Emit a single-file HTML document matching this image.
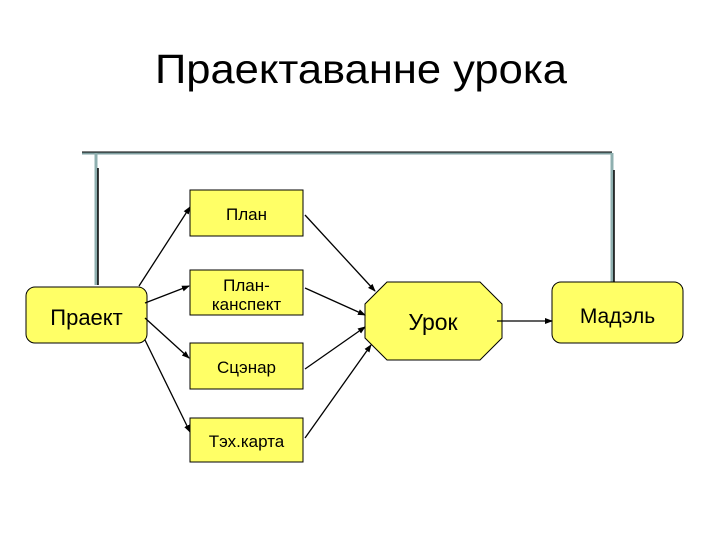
<!DOCTYPE html>
<html><head><meta charset="utf-8"><style>
html,body{margin:0;padding:0;background:#fff;}
svg{display:block;}
text{font-family:"Liberation Sans",Arial,sans-serif;fill:#000;}
</style></head><body>
<svg width="720" height="540" viewBox="0 0 720 540" xmlns="http://www.w3.org/2000/svg">
<defs>
<marker id="a" markerWidth="8" markerHeight="8" refX="7" refY="4" orient="auto" markerUnits="userSpaceOnUse">
<path d="M0,1 L8,4 L0,7 z" fill="#000"/></marker>
</defs>
<text x="361" y="83" font-size="41" text-anchor="middle" textLength="412" lengthAdjust="spacingAndGlyphs">Праектаванне урока</text>

<!-- feedback loop -->
<polyline points="82,153 612,153" stroke="#7f9fa0" stroke-width="3" fill="none"/>
<line x1="82" y1="152" x2="612" y2="152" stroke="#000" stroke-width="1"/>
<line x1="96" y1="153" x2="96" y2="285" stroke="#8fb0b0" stroke-width="3"/>
<line x1="98" y1="168" x2="98" y2="285" stroke="#000" stroke-width="1.5"/>
<line x1="612" y1="153" x2="612" y2="282" stroke="#8fb0b0" stroke-width="3"/>
<line x1="614" y1="170" x2="614" y2="282" stroke="#000" stroke-width="1.5"/>

<!-- boxes -->
<rect x="26" y="287" width="121" height="56" rx="9" fill="#ffff66" stroke="#000"/>
<text x="86.5" y="325" font-size="22" text-anchor="middle">Праект</text>

<rect x="190" y="190" width="113" height="46" fill="#ffff66" stroke="#000"/>
<text x="246.5" y="220" font-size="17" text-anchor="middle">План</text>
<rect x="190" y="270" width="113" height="45" fill="#ffff66" stroke="#000"/>
<text x="246.5" y="291" font-size="17" text-anchor="middle">План-</text>
<text x="246.5" y="310" font-size="17" text-anchor="middle">канспект</text>
<rect x="190" y="343" width="113" height="46" fill="#ffff66" stroke="#000"/>
<text x="246.5" y="373" font-size="17" text-anchor="middle">Сцэнар</text>
<rect x="190" y="418" width="113" height="44" fill="#ffff66" stroke="#000"/>
<text x="246.5" y="447" font-size="17" text-anchor="middle">Тэх.карта</text>

<polygon points="387,282 480,282 502,304 502,338 480,360 387,360 365,338 365,304" fill="#ffff66" stroke="#000"/>
<text x="433" y="330" font-size="23" text-anchor="middle">Урок</text>

<rect x="552" y="282" width="131" height="61" rx="9" fill="#ffff66" stroke="#000"/>
<text x="617.5" y="323" font-size="21" text-anchor="middle">Мадэль</text>

<!-- arrows -->
<g stroke="#000" stroke-width="1.3" fill="none" marker-end="url(#a)">
<line x1="139" y1="286" x2="190" y2="207"/>
<line x1="145" y1="303" x2="189" y2="286"/>
<line x1="145" y1="318" x2="189" y2="358"/>
<line x1="145" y1="340" x2="190" y2="432"/>
<line x1="305" y1="215" x2="375" y2="291"/>
<line x1="305" y1="288" x2="365" y2="315"/>
<line x1="305" y1="369" x2="365" y2="327"/>
<line x1="305" y1="438" x2="371" y2="345"/>
<line x1="497" y1="321" x2="552" y2="321"/>
</g>
</svg>
</body></html>
